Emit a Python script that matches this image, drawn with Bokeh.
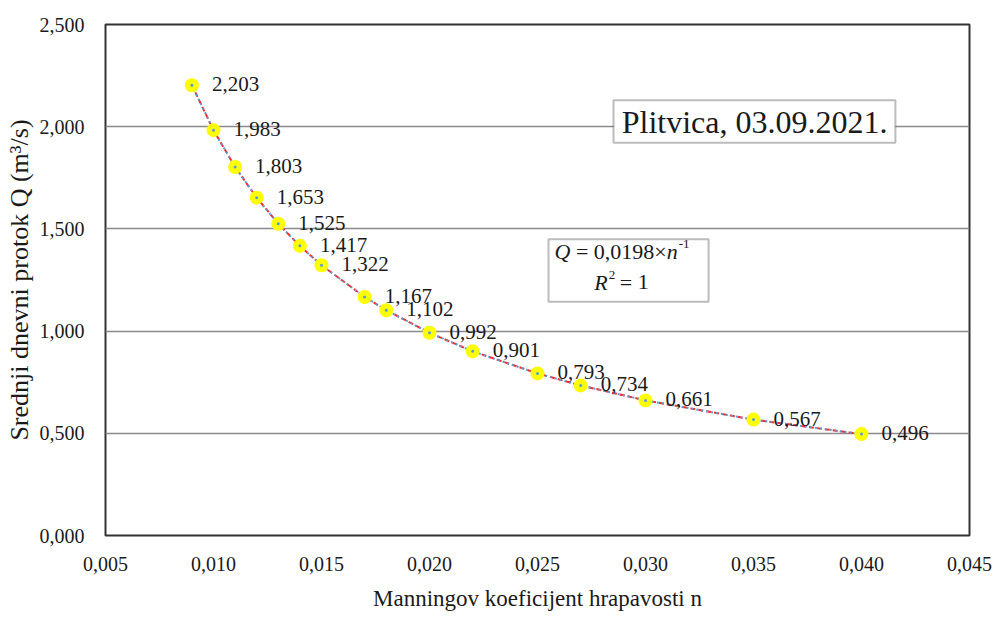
from bokeh.plotting import figure
from bokeh.models import ColumnDataSource, FixedTicker, CustomJSTickFormatter, Label, BoxAnnotation, Range1d
from bokeh.embed import file_html
from bokeh.resources import INLINE

# Data
n_values = [0.009, 0.010, 0.011, 0.012, 0.013, 0.014, 0.015, 0.017, 0.018,
            0.020, 0.022, 0.025, 0.027, 0.030, 0.035, 0.040]
q_values = [2.203, 1.983, 1.803, 1.653, 1.525, 1.417, 1.322, 1.167, 1.102,
            0.992, 0.901, 0.793, 0.734, 0.661, 0.567, 0.496]
q_labels = [f"{v:.3f}".replace(".", ",") for v in q_values]
x_ticks = [0.005, 0.010, 0.015, 0.020, 0.025, 0.030, 0.035, 0.040, 0.045]
y_ticks = [0.0, 0.5, 1.0, 1.5, 2.0, 2.5]

title_text = "Plitvica, 03.09.2021."

FONT = "'Liberation Serif', 'Times New Roman', 'DejaVu Serif', serif"
TXT = "#1a1a1a"

src = ColumnDataSource(dict(n=n_values, q=q_values, lab=q_labels))

p = figure(width=994, height=613, output_backend="svg", toolbar_location=None,
           x_range=Range1d(0.005, 0.045), y_range=Range1d(0.0, 2.5),
           min_border_left=105, min_border_right=25, min_border_top=24, min_border_bottom=75)

p.outline_line_color = "#333333"
p.outline_line_width = 2
p.background_fill_color = "white"
p.border_fill_color = "white"

fmt = CustomJSTickFormatter(code="return tick.toFixed(3).replace('.', ',');")
for ax, ticks in ((p.xaxis, x_ticks), (p.yaxis, y_ticks)):
    ax.ticker = FixedTicker(ticks=ticks)
    ax.formatter = fmt
    ax.axis_line_color = None
    ax.major_tick_line_color = None
    ax.minor_tick_line_color = None
    ax.major_label_text_font = FONT
    ax.major_label_text_font_size = "20px"
    ax.major_label_text_color = TXT
    ax.axis_label_text_font = FONT
    ax.axis_label_text_font_style = "normal"
    ax.axis_label_text_color = TXT

p.xaxis.axis_label_text_font_size = "23px"
p.yaxis.axis_label_text_font_size = "26px"
p.xaxis.major_label_standoff = 15
p.yaxis.major_label_standoff = 15
p.xaxis.axis_label_standoff = 12
p.yaxis.axis_label_standoff = 3
p.xaxis.axis_label = "Manningov koeficijent hrapavosti n"
p.yaxis.axis_label = "Srednji dnevni protok Q (m³/s)"

p.xgrid.grid_line_color = None
p.ygrid.grid_line_color = "#8a8a8a"
p.ygrid.grid_line_width = 1.5

# series line and trendline
p.line("n", "q", source=src, line_color="#ff2a2a", line_width=2, line_dash="5 3")
p.line("n", "q", source=src, line_color="#5b9bd5", line_width=2, line_dash="2 3")
p.scatter("n", "q", source=src, size=14, fill_color="#ffff00", line_color=None)
p.scatter("n", "q", source=src, size=3, fill_color="#5b9bd5", line_color=None)

p.text("n", "q", text="lab", source=src, x_offset=20, y_offset=-1,
       text_baseline="middle", text_align="left",
       text_font=FONT, text_font_size="21px", text_color=TXT)

# Title box
p.add_layout(BoxAnnotation(left=0.02852, right=0.04157, bottom=1.921, top=2.130,
                           fill_color="white", fill_alpha=1.0,
                           line_color="#222222", line_width=2))
p.add_layout(Label(x=0.03505, y=2.025, text=title_text, text_align="center",
                   text_baseline="middle", text_font=FONT, text_font_size="32px",
                   text_color=TXT))

# Equation box
p.add_layout(BoxAnnotation(left=0.02551, right=0.03292, bottom=1.143, top=1.449,
                           fill_color="white", fill_alpha=1.0,
                           line_color="#222222", line_width=2))

fs = 22
sup = 13
cx = 0.02889          # text centre (screen offsets below are relative to it)
y1, y2 = 1.391, 1.240
# widths from Times metrics (em)
w_q = 0.722 * fs
w_sp = 0.25 * fs
w_eq = 0.564 * fs
w_num = 3.314 * fs
w_n = 0.5 * fs
w_m1 = 0.833 * sup
tot1 = w_q + w_sp + w_eq + w_sp + w_num + w_n + w_m1
x0 = -tot1 / 2
parts1 = [("Q", "italic", fs, x0, 0),
          ("=", "normal", fs, x0 + w_q + w_sp, 0),
          ("0,0198×", "normal", fs, x0 + w_q + 2 * w_sp + w_eq, 0),
          ("n", "italic", fs, x0 + w_q + 2 * w_sp + w_eq + w_num, 0),
          ("-1", "normal", sup, x0 + w_q + 2 * w_sp + w_eq + w_num + w_n + 1, 7)]
for t, st, size, xo, yo in parts1:
    p.add_layout(Label(x=cx, y=y1, x_offset=xo, y_offset=yo, text=t, text_align="left",
                       text_baseline="middle", text_font=FONT, text_font_style=st,
                       text_font_size=f"{size}px", text_color=TXT))
# line 2: R² = 1
w_r = 0.611 * fs
w_2 = 0.5 * sup
tot2 = w_r + w_2 + w_sp + w_eq + w_sp + 0.5 * fs
x0b = -tot2 / 2
parts2 = [("R", "italic", fs, x0b, 0),
          ("2", "normal", sup, x0b + w_r + 1, 7),
          ("=", "normal", fs, x0b + w_r + w_2 + w_sp, 0),
          ("1", "normal", fs, x0b + w_r + w_2 + 2 * w_sp + w_eq, 0)]
for t, st, size, xo, yo in parts2:
    p.add_layout(Label(x=cx, y=y2, x_offset=xo, y_offset=yo, text=t, text_align="left",
                       text_baseline="middle", text_font=FONT, text_font_style=st,
                       text_font_size=f"{size}px", text_color=TXT))

open("out.html", "w").write(file_html(p, INLINE))
